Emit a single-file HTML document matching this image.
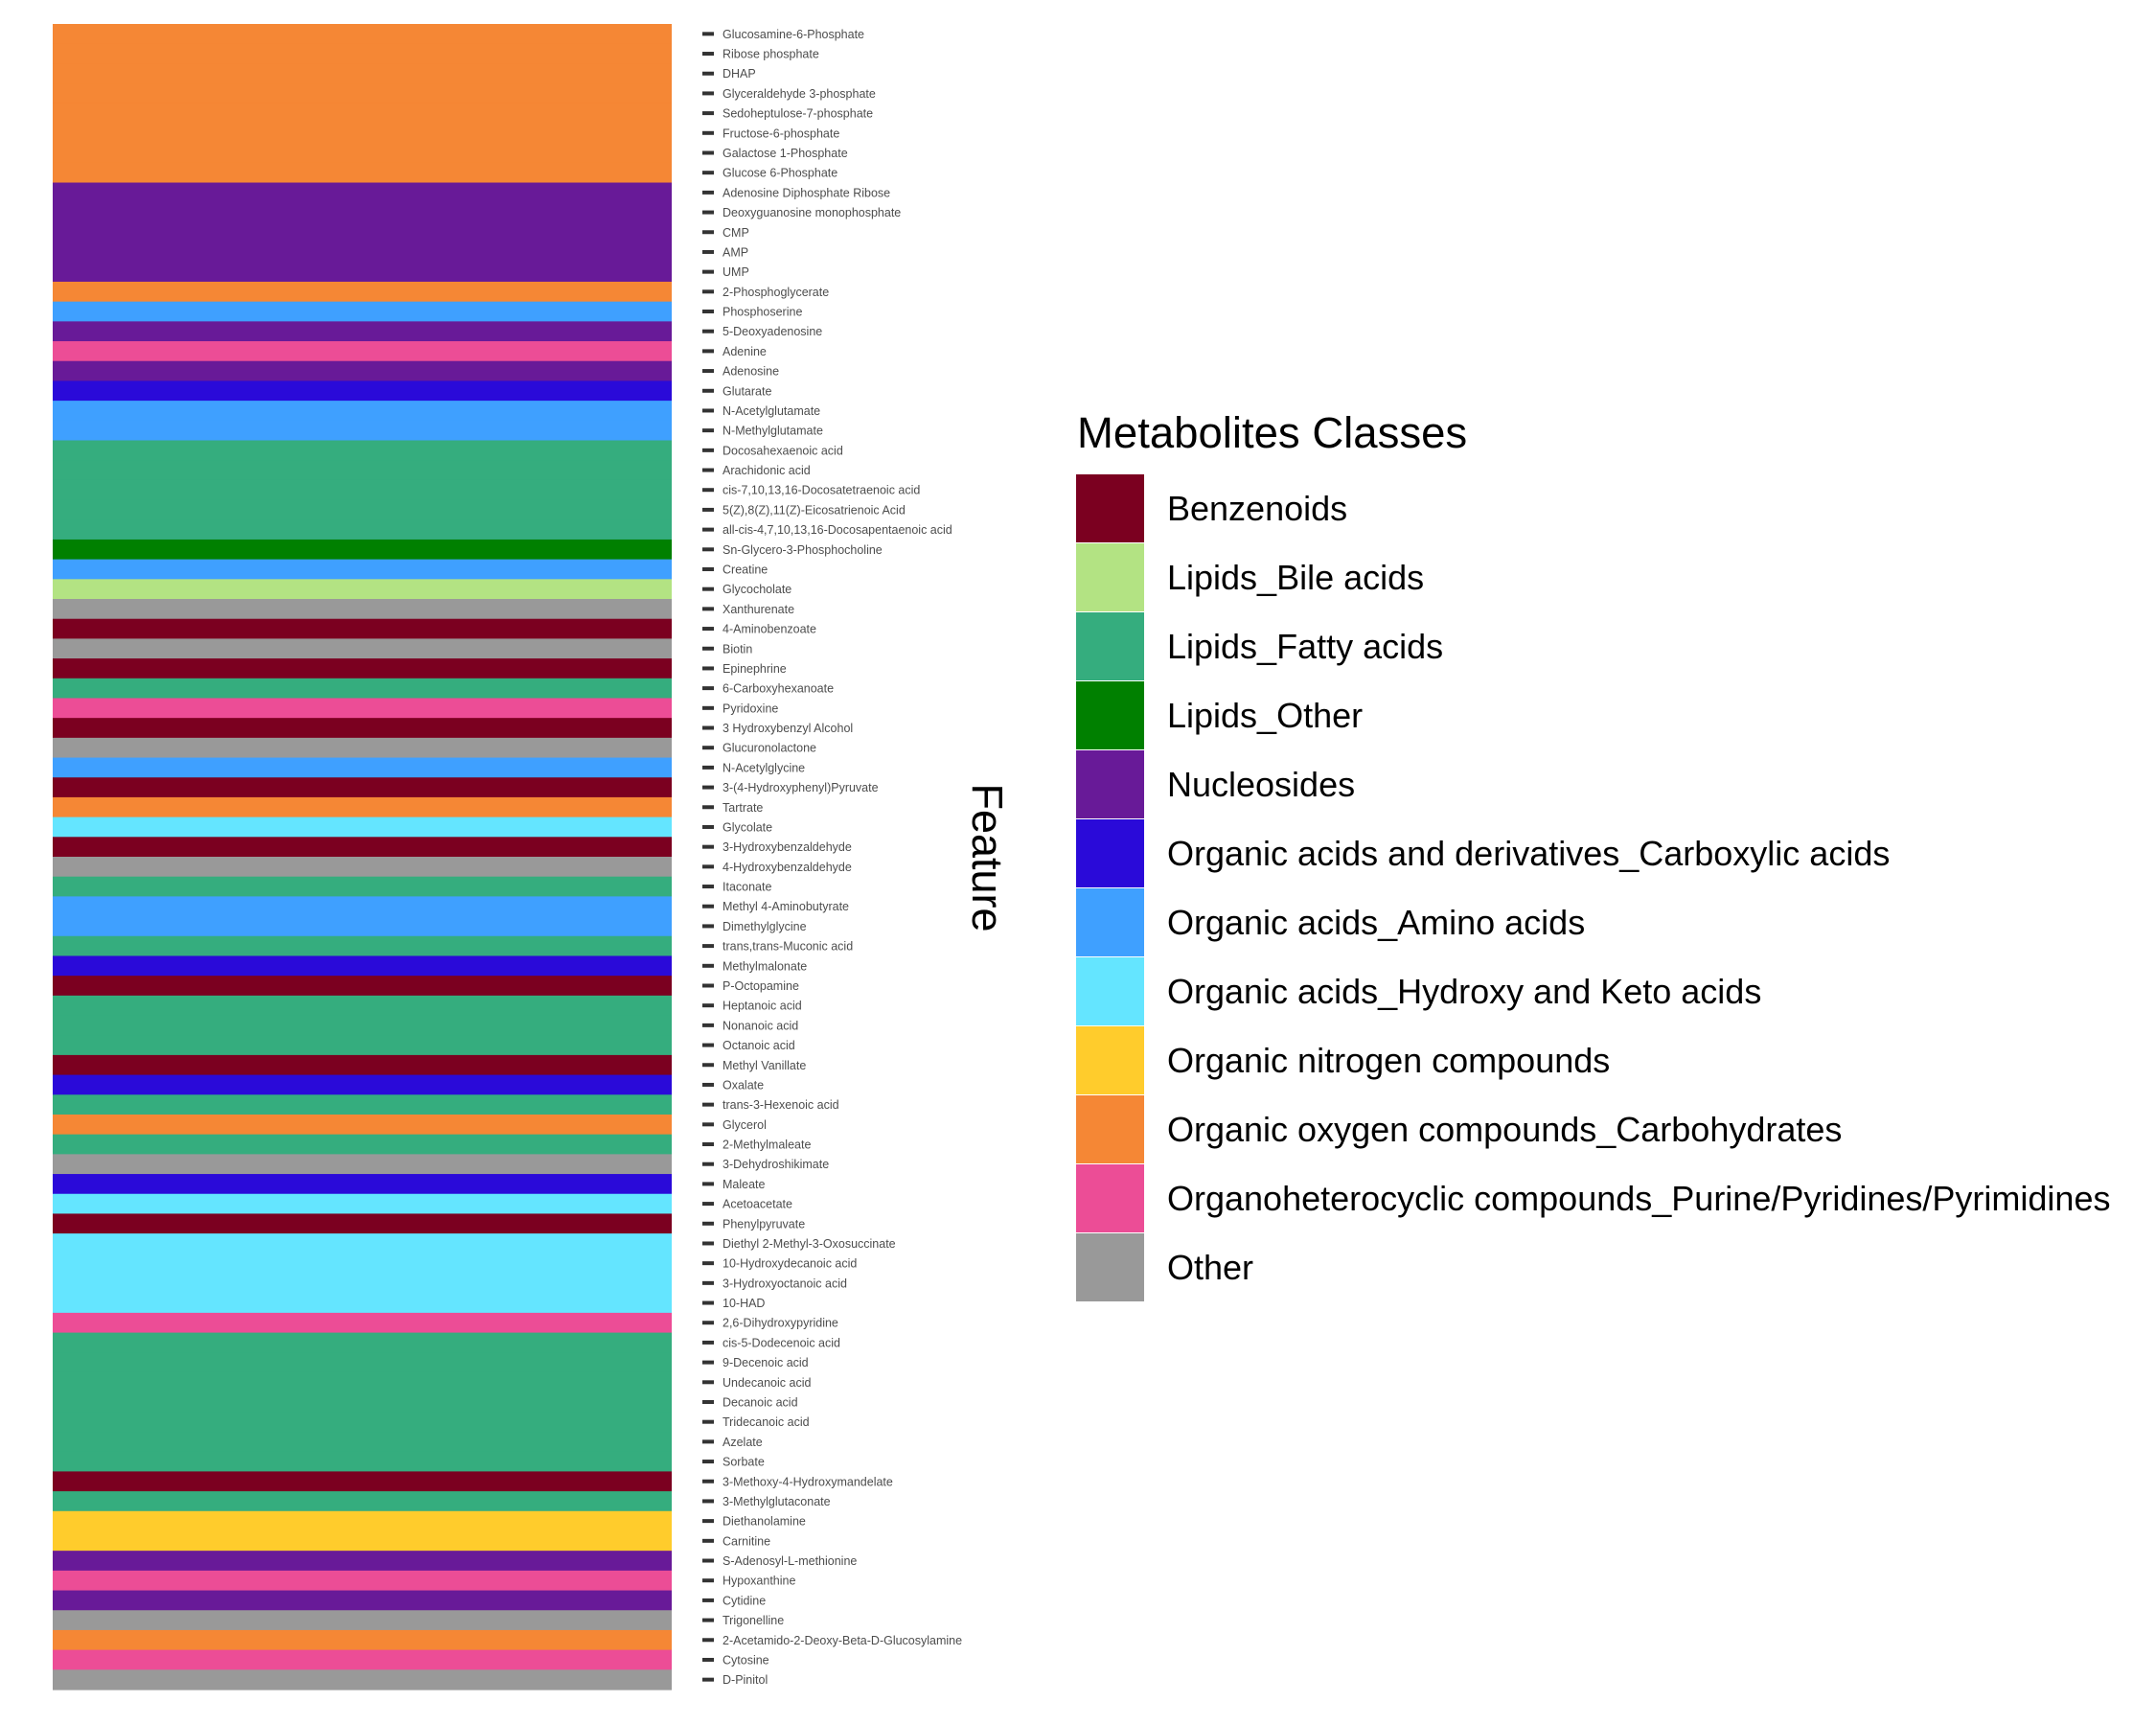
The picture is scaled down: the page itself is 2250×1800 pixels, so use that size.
<!DOCTYPE html>
<html><head><meta charset="utf-8"><style>
body{margin:0;background:#fff;}
svg{display:block;font-family:"Liberation Sans",sans-serif;}
</style></head><body>
<svg id="c" width="2250" height="1800" xmlns="http://www.w3.org/2000/svg"></svg>
<script>
const features=["Glucosamine-6-Phosphate","Ribose phosphate","DHAP","Glyceraldehyde 3-phosphate","Sedoheptulose-7-phosphate","Fructose-6-phosphate","Galactose 1-Phosphate","Glucose 6-Phosphate","Adenosine Diphosphate Ribose","Deoxyguanosine monophosphate","CMP","AMP","UMP","2-Phosphoglycerate","Phosphoserine","5-Deoxyadenosine","Adenine","Adenosine","Glutarate","N-Acetylglutamate","N-Methylglutamate","Docosahexaenoic acid","Arachidonic acid","cis-7,10,13,16-Docosatetraenoic acid","5(Z),8(Z),11(Z)-Eicosatrienoic Acid","all-cis-4,7,10,13,16-Docosapentaenoic acid","Sn-Glycero-3-Phosphocholine","Creatine","Glycocholate","Xanthurenate","4-Aminobenzoate","Biotin","Epinephrine","6-Carboxyhexanoate","Pyridoxine","3 Hydroxybenzyl Alcohol","Glucuronolactone","N-Acetylglycine","3-(4-Hydroxyphenyl)Pyruvate","Tartrate","Glycolate","3-Hydroxybenzaldehyde","4-Hydroxybenzaldehyde","Itaconate","Methyl 4-Aminobutyrate","Dimethylglycine","trans,trans-Muconic acid","Methylmalonate","P-Octopamine","Heptanoic acid","Nonanoic acid","Octanoic acid","Methyl Vanillate","Oxalate","trans-3-Hexenoic acid","Glycerol","2-Methylmaleate","3-Dehydroshikimate","Maleate","Acetoacetate","Phenylpyruvate","Diethyl 2-Methyl-3-Oxosuccinate","10-Hydroxydecanoic acid","3-Hydroxyoctanoic acid","10-HAD","2,6-Dihydroxypyridine","cis-5-Dodecenoic acid","9-Decenoic acid","Undecanoic acid","Decanoic acid","Tridecanoic acid","Azelate","Sorbate","3-Methoxy-4-Hydroxymandelate","3-Methylglutaconate","Diethanolamine","Carnitine","S-Adenosyl-L-methionine","Hypoxanthine","Cytidine","Trigonelline","2-Acetamido-2-Deoxy-Beta-D-Glucosylamine","Cytosine","D-Pinitol"];
const classNames=["Benzenoids","Lipids_Bile acids","Lipids_Fatty acids","Lipids_Other","Nucleosides","Organic acids and derivatives_Carboxylic acids","Organic acids_Amino acids","Organic acids_Hydroxy and Keto acids","Organic nitrogen compounds","Organic oxygen compounds_Carbohydrates","Organoheterocyclic compounds_Purine/Pyridines/Pyrimidines","Other"];
const classColors=["#7B0020","#B3E383","#35AD7E","#008000","#681A98","#2A0AD9","#3FA0FF","#64E5FF","#FFCC2C","#F58735","#EC4D96","#999999"];
// class index per feature (0=Benzenoids ... 11=Other)
const featureClass=[9,9,9,9,9,9,9,9,4,4,4,4,4,9,6,4,10,4,5,6,6,2,2,2,2,2,3,6,1,11,0,11,0,2,10,0,11,6,0,9,7,0,11,2,6,6,2,5,0,2,2,2,0,5,2,9,2,11,5,7,0,7,7,7,7,10,2,2,2,2,2,2,2,0,2,8,8,4,10,4,11,9,10,11];
const NS="http://www.w3.org/2000/svg";
const svg=document.getElementById('c');
function mk(t,a){const e=document.createElementNS(NS,t);for(const k in a)e.setAttribute(k,a[k]);svg.appendChild(e);return e;}
const x0=55,x1=701,y0=25,y1=1763;
const rowH=(y1-y0)/features.length;
function yScale(i){return y0+i*rowH;}
features.forEach((f,i)=>{
  const r=mk('rect',{x:x0,y:yScale(i),width:x1-x0,height:rowH+0.6,fill:classColors[featureClass[i]]});
  
  
  const tk=mk('rect',{x:733,y:yScale(i)+rowH/2-2,width:12,height:4,fill:'#333'});
  
  
  const t=mk('text',{x:754,y:yScale(i)+rowH/2+4.5,'font-size':12.5,fill:'#4d4d4d'});
  t.textContent=f;
  
  
});
const ft=mk('text',{x:1015,y:895,'font-size':45,fill:'#000','text-anchor':'middle',transform:'rotate(90 1015 895)'});
ft.textContent='Feature';


const lt=mk('text',{x:1124,y:467,'font-size':45.5,fill:'#000'});
lt.textContent='Metabolites Classes';


classNames.forEach((c,i)=>{
  const y=495+i*72;
  const s=mk('rect',{x:1123,y:y,width:71,height:71,fill:classColors[i]});
  
  
  const t=mk('text',{x:1218,y:y+48,'font-size':36,fill:'#000'});
  t.textContent=c;
  
  
});
</script>
</body></html>
